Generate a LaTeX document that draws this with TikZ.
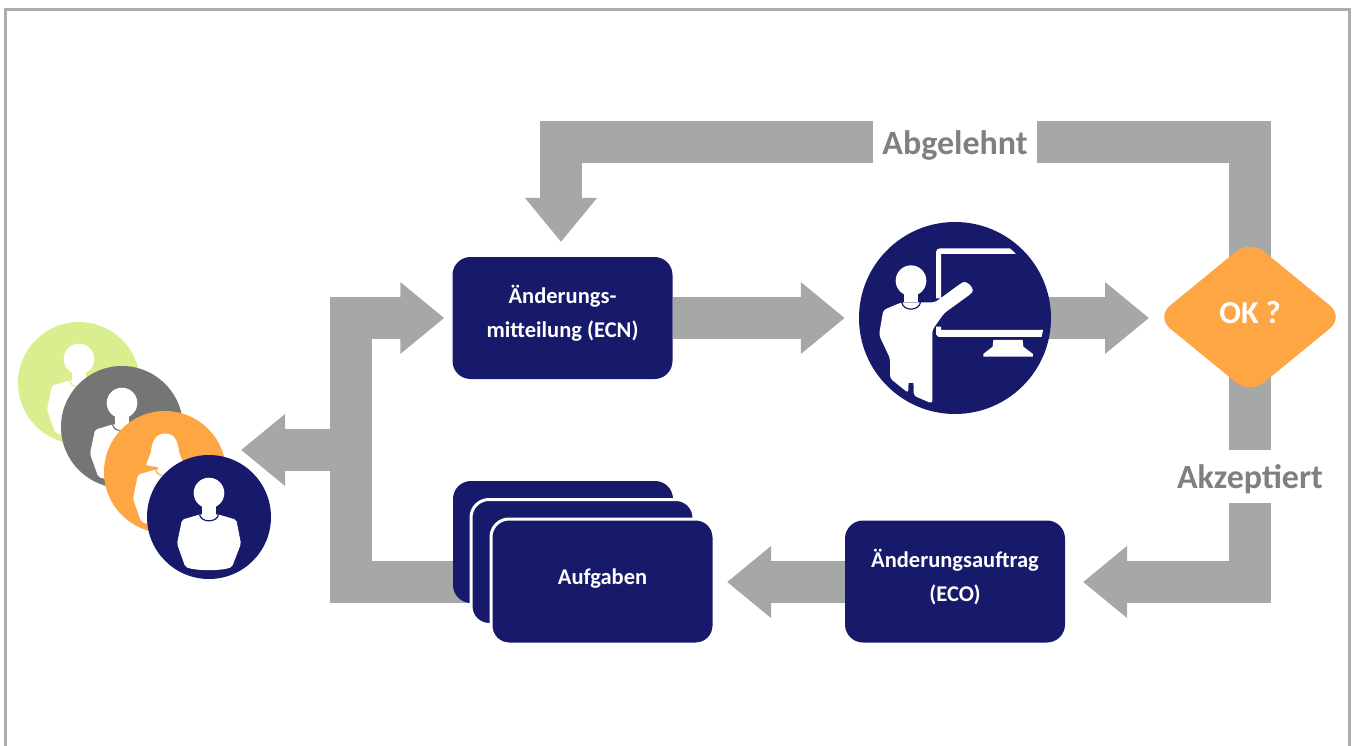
\documentclass[tikz,border=0pt]{standalone}
\usepackage{fontspec}
\setmainfont{Carlito}
\usetikzlibrary{arrows.meta,shapes.geometric,backgrounds}
\definecolor{navy}{HTML}{171A6B}
\definecolor{flow}{HTML}{A6A8A7}
\definecolor{labelgray}{HTML}{808080}
\definecolor{okorange}{HTML}{FFA644}
\definecolor{softgreen}{HTML}{D9EE8E}
\definecolor{midgray}{HTML}{757575}
\definecolor{framegray}{HTML}{ABABAB}
\newcommand{\lowertext}[2]{\raisebox{-#1}[0pt][0pt]{#2}}
\tikzset{
  card/.style={draw=none,fill=navy,rounded corners=18pt,minimum width=220pt,minimum height=122pt,inner sep=0pt,text=white,align=center,font=\fontsize{22.5}{34}\selectfont\bfseries},
  backcard/.style={card,draw=white,line width=3pt,minimum width=223pt,minimum height=125pt},
  flowarrow/.style={draw=flow,line width=42pt,line join=miter,-{Triangle[length=44pt,width=69pt]}},
  flowlabel/.style={fill=white,text=labelgray,inner sep=0pt,font=\fontsize{34}{36}\selectfont\bfseries},
  disc/.style={circle,inner sep=0pt,minimum size=#1},
  pics/person/.style={code={
    \fill[white,rounded corners=2pt] (-27,2.7) -- (-8.7,-2.7) -- (8.7,-2.7) -- (27.3,2.7) -- (32,26.7) -- (23,50) .. controls (12,54) and (-12,54) .. (-23.7,50) -- (-32,26.7) -- cycle;
    \fill[white] (-6.7,-12) rectangle (6.7,0);
    \fill[white] (0,-24) circle (15.3);
    \draw[#1,line width=1.2pt] (-9.5,-2.5) .. controls (-8,6) and (8,6) .. (9.5,-2.5);
  }},
  pics/womanperson/.style={code={
    \fill[white,rounded corners=2pt] (-27,2.7) -- (-8.7,-2.7) -- (8.7,-2.7) -- (27.3,2.7) -- (32,26.7) -- (23,50) .. controls (12,54) and (-12,54) .. (-23.7,50) -- (-32,26.7) -- cycle;
    \fill[white] (-6.7,-12) rectangle (6.7,0);
    \fill[white] (-19,-7) -- (-14,-20) .. controls (-13,-33) and (-8,-38.5) .. (0,-38.5) .. controls (8,-38.5) and (13,-33) .. (14,-20) -- (19,-7) .. controls (8,-4) and (-8,-4) .. (-19,-7) -- cycle;
    \draw[#1,line width=1.2pt] (-9.5,-2.5) .. controls (-8,6) and (8,6) .. (9.5,-2.5);
  }}
}
\begin{document}
\begin{tikzpicture}[x=1pt,y=-1pt]
\useasboundingbox (0,0) rectangle (1352,746);
% process nodes
\node[card] (ecn) at (562.5,318) {\lowertext{2.5pt}{Änderungs-}\\\lowertext{2.5pt}{mitteilung (ECN)}};
\node[disc=192pt,fill=navy] (teacher) at (955,318) {};
\node[diamond,fill=okorange,rounded corners=18pt,minimum width=188pt,minimum height=154pt,inner sep=0pt,text=white,font=\fontsize{32}{34}\selectfont\bfseries] (ok) at (1250,317) {\lowertext{6pt}{OK ?}};
\node[card] (eco) at (955,581.5) {\lowertext{3pt}{Änderungsauftrag}\\\lowertext{3pt}{(ECO)}};
\node[card] (task1) at (563,542) {};
\node[backcard] (task2) at (582.5,562) {};
\node[backcard] (task3) at (602.5,581.5) {\lowertext{2.5pt}{Aufgaben}};
% people
\node[disc=122pt,fill=softgreen] (p1) at (79,383) {};
\pic at (p1) {person=softgreen};
\node[disc=122pt,fill=midgray] (p2) at (122,427) {};
\pic at (p2) {person=midgray};
\node[disc=122pt,fill=okorange] (p3) at (165,472) {};
\pic at (p3) {womanperson=okorange};
\node[disc=124pt,fill=navy] (p4) at (209,517) {};
\pic at (p4) {person=navy};
% teacher icon
\begin{scope}[shift={(850,215)},x=0.3333pt,y=-0.3333pt]
  \fill[white] (258,250) -- (258,112) .. controls (258,105) and (263,100) .. (270,100) -- (480,100) -- (498,117) -- (273,117) -- (273,250) -- cycle;
  \fill[white] (258,335) -- (273,335) -- (273,345) -- (579,345) -- (575,366) -- (266,366) -- (258,358) -- cycle;
  \fill[white] (430,375) -- (518,375) -- (520,395) -- (549,417) -- (549,425) -- (400,425) -- (400,417) -- (428,395) -- cycle;
  \fill[white] (183,197) circle (46);
  \fill[white] (163,230) rectangle (203,262);
  \fill[white,rounded corners=3pt] (100,285) -- (155,262) -- (212,262) -- (255,262) -- (330,207) .. controls (350,195) and (378,222) .. (358,240) -- (282,295) -- (247,345) -- (247,566) -- (191,542) -- (191,512) .. controls (190,504) and (176,504) .. (175,512) -- (175,534) -- (120,490) -- (120,430) -- (87,360) -- cycle;
  \draw[navy,line width=1.2pt] (155,260) .. controls (158,290) and (208,290) .. (212,260);
\end{scope}
% connector anchors
\coordinate (topturn) at (561,142.5);
\coordinate (ecnin) at (561,257);
\coordinate (lowturn) at (1250,582);
\coordinate (ecoin) at (1065,582);
\coordinate (ecoout) at (845,582);
\coordinate (taskin) at (712,582);
\coordinate (taskout) at (470,582);
\coordinate (busbottom) at (351,582);
\coordinate (bustop) at (351,318);
\coordinate (busjoin) at (351,450);
\coordinate (peoplein) at (241,450);
\begin{scope}[on background layer]
  \fill[white] (0,0) rectangle (1352,746);
  \draw[framegray,line width=3pt] (5,746) -- (5,10) -- (1349,10) -- (1349,746);
  \draw[flowarrow,shorten >=14pt] (ecn.east) -- (teacher.west);
  \draw[flowarrow,shorten >=101pt] (teacher.center) -- (ok.center |- teacher.center);
  \draw[flowarrow,shorten >=15pt] (ok.center) -- (ok.center |- topturn) -- (topturn) -- (ecnin);
  \draw[flowarrow,shorten >=18pt] (ok.center) -- (lowturn) -- (ecoin);
  \draw[flowarrow,shorten >=15pt] (ecoout) -- (taskin);
  \draw[flowarrow,shorten >=8pt] (taskout) -- (busbottom) -- (bustop) -- (ecn.west);
  \draw[flowarrow] (busjoin) -- (peoplein);
\end{scope}
\node[flowlabel,minimum width=164pt,minimum height=44pt] (abgelehnt) at (955,143) {\lowertext{12pt}{Abgelehnt}};
\node[flowlabel,minimum width=150pt,minimum height=53pt] (akzeptiert) at (1250,476.5) {\lowertext{11.5pt}{Akzeptiert}};
\end{tikzpicture}
\end{document}
